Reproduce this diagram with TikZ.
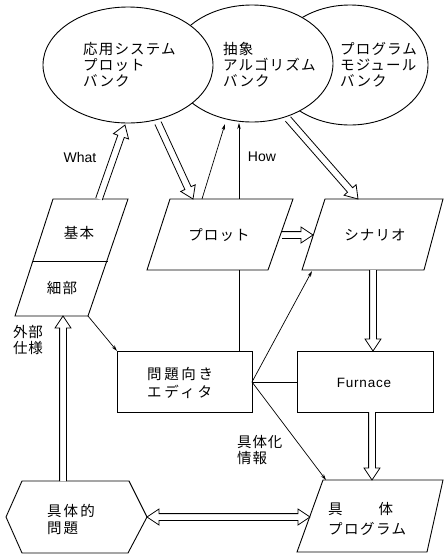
\documentclass[tikz,border=0pt]{standalone}
\usepackage{fontspec}
\setmainfont{Liberation Sans}
\newfontfamily\jp{Noto Sans CJK JP}[LetterSpace=8]
\usetikzlibrary{calc,arrows.meta}
\newcommand\fsw{3.4pt}
\newcommand\fhw{8pt}
\newcommand\fhl{12pt}
\newcommand\fatarr[2]{%
  \coordinate (fah) at ($(#2)!\fhl!(#1)$);
  \filldraw[fatline] ($(#1)!\fsw!90:(#2)$) -- ($(fah)!\fsw!90:(#2)$) -- ($(fah)!\fhw!90:(#2)$) -- (#2)
     -- ($(fah)!\fhw!-90:(#2)$) -- ($(fah)!\fsw!-90:(#2)$) -- ($(#1)!\fsw!-90:(#2)$);
}
\newcommand\fatarrboth[2]{%
  \coordinate (fha) at ($(#1)!\fhl!(#2)$);
  \coordinate (fhb) at ($(#2)!\fhl!(#1)$);
  \filldraw[fatline] (#1) -- ($(fha)!\fhw!-90:(#2)$) -- ($(fha)!\fsw!-90:(#2)$) -- ($(fhb)!\fsw!90:(#1)$)
     -- ($(fhb)!\fhw!90:(#1)$) -- (#2) -- ($(fhb)!\fhw!-90:(#1)$) -- ($(fhb)!\fsw!-90:(#1)$)
     -- ($(fha)!\fsw!90:(#2)$) -- ($(fha)!\fhw!90:(#2)$) -- cycle;
}
\tikzset{
  fatline/.style={draw=black, fill=white, line width=0.8pt, line join=miter},
  shapeline/.style={draw=black, fill=white, line width=0.9pt},
  thin/.style={draw=black, line width=0.7pt},
  thinarr/.style={thin, -{Stealth[length=6pt,width=3.5pt]}},
  jptext/.style={font=\jp\fontsize{14.5}{16}\selectfont, inner sep=0pt, align=left},
  lattext/.style={font=\fontsize{14}{16}\selectfont, inner sep=0pt},
}
\begin{document}
\begin{tikzpicture}[x=1pt,y=-1pt]
\useasboundingbox (0,0) rectangle (444,555);
% ellipses (banks)
\draw[shapeline] (350,65) ellipse [x radius=78, y radius=60];
\draw[shapeline] (252,63.5) ellipse [x radius=81, y radius=58.5];
\draw[shapeline] (128,65) ellipse [x radius=85, y radius=58];
\node[jptext, anchor=west] (bankA) at (83,64.5) {応用システム\\プロット\\バンク};
\node[jptext, anchor=west] (bankB) at (223,64.5) {抽象\\アルゴリズム\\バンク};
\node[jptext, anchor=west] (bankC) at (340,64.5) {プログラム\\モジュール\\バンク};
% basic / detail parallelogram
\draw[shapeline] (53,199) -- (128,199) -- (88,316) -- (15,316) -- cycle;
\draw[shapeline] (33,261) -- (108,261);
\node[jptext] (kihon) at (79,233) {基本};
\node[jptext] (saibu) at (62,288) {細部};
% plot
\draw[shapeline] (170,199) -- (293,199) -- (268,270) -- (147,270) -- cycle;
\node[jptext] (plot) at (219,235) {プロット};
% scenario
\draw[shapeline] (325,199) -- (443,199) -- (424,270) -- (302,270) -- cycle;
\node[jptext] (scen) at (375,235) {シナリオ};
% editor
\draw[shapeline] (117,351) rectangle (252,412);
\node[jptext, anchor=west, font=\jp\fontsize{14.5}{18}\selectfont\addfontfeature{LetterSpace=18}] (editor) at (147,383) {問題向き\\エディタ};
% furnace
\draw[shapeline] (297,351) rectangle (433,412);
\node[lattext, font=\fontsize{13.5}{15}\selectfont\addfontfeature{LetterSpace=6}] (furnace) at (364,383) {Furnace};
% concrete problem hexagon
\draw[shapeline] (6,517) -- (22,481) -- (129,481) -- (147,517) -- (128,553) -- (22,553) -- cycle;
\node[jptext, anchor=west, font=\jp\fontsize{14.5}{17}\selectfont\addfontfeature{LetterSpace=14}] (prob) at (47,519) {具体的\\問題};
% concrete program
\draw[shapeline] (323,480) -- (443,480) -- (427,552) -- (297,552) -- cycle;
\node[jptext, anchor=west, font=\jp\fontsize{14.5}{20}\selectfont\addfontfeature{LetterSpace=10}] (prog) at (328,519) {具\hspace{36pt}体\\プログラム};
% labels
\node[lattext] (what) at (80,157) {What};
\node[lattext] (how) at (262,157) {How};
\node[jptext, anchor=west, font=\jp\fontsize{14.5}{16}\selectfont\addfontfeature{LetterSpace=4}] (gaibu) at (13,340) {外部\\仕様};
\node[jptext, anchor=west, font=\jp\fontsize{14.5}{16}\selectfont\addfontfeature{LetterSpace=6}] (gutaika) at (237,450) {具体化\\情報};
% connector end points
\coordinate (c1a) at (99,199);  \coordinate (c1b) at (125,125);
\coordinate (c2a) at (158,123); \coordinate (c2b) at (193,199);
\coordinate (c3a) at (202,199); \coordinate (c3b) at (225,124);
\coordinate (c4a) at (239,351); \coordinate (c4b) at (239,270);
\coordinate (c4c) at (239,199); \coordinate (c4d) at (239,123);
\coordinate (c5a) at (288,119); \coordinate (c5b) at (358,199);
\coordinate (c6a) at (282,235); \coordinate (c6b) at (313,235);
\coordinate (c7a) at (373,270); \coordinate (c7b) at (373,351);
\coordinate (c8a) at (372,412); \coordinate (c8b) at (372,480);
\coordinate (c9a) at (63,481);  \coordinate (c9b) at (63,316);
\coordinate (c10a) at (147,517); \coordinate (c10b) at (310,517);
\coordinate (c11a) at (88,316); \coordinate (c11b) at (117,351);
\coordinate (ed) at (252,382);
\coordinate (c12b) at (312,271);
\coordinate (c13b) at (297,382);
\coordinate (c14b) at (326,480);
% fat arrows
\fatarr{c1a}{c1b}
\fatarr{c2a}{c2b}
\fatarr{c5a}{c5b}
\fatarr{c6a}{c6b}
\fatarr{c7a}{c7b}
\fatarr{c8a}{c8b}
\fatarr{c9a}{c9b}
\fatarrboth{c10a}{c10b}
% thin arrows
\draw[thinarr] (c3a) -- (c3b);
\draw[thin] (c4a) -- (c4b);
\draw[thinarr] (c4c) -- (c4d);
\draw[thinarr] (c11a) -- (c11b);
\draw[thinarr] (ed) -- (c12b);
\draw[thin] (ed) -- (c13b);
\draw[thinarr] (ed) -- (c14b);
\end{tikzpicture}
\end{document}
